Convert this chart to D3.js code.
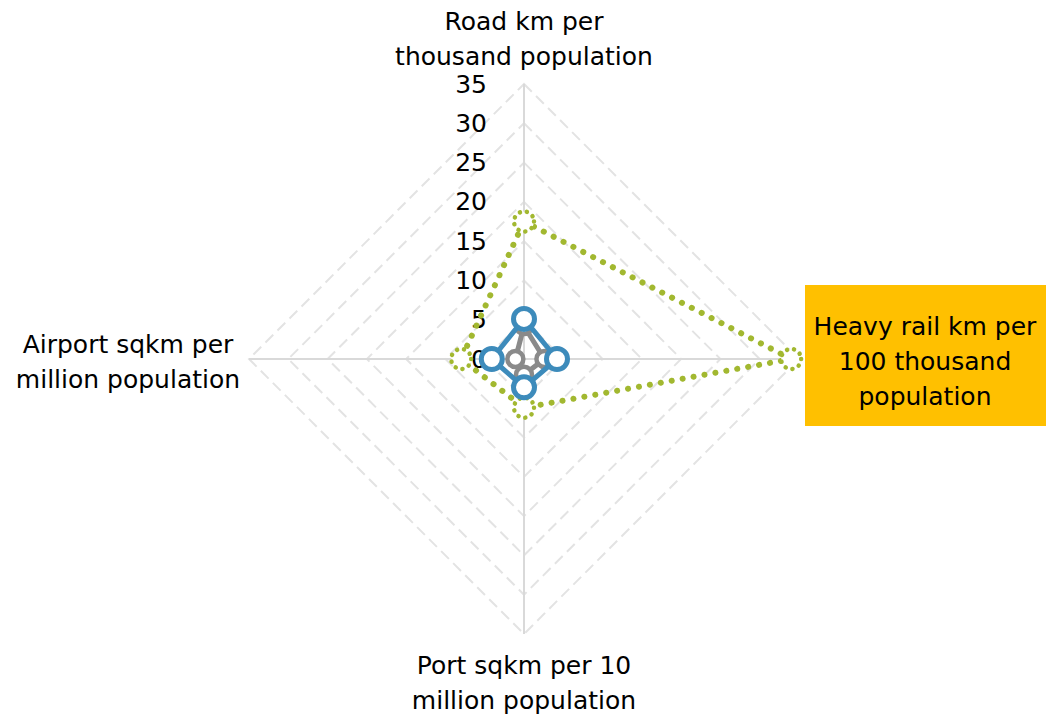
<!DOCTYPE html>
<html>
<head>
<meta charset="utf-8">
<script src="https://cdn.jsdelivr.net/npm/d3@7"></script>
<style>
  html, body { margin: 0; padding: 0; background: #ffffff; }
  svg { display: block; font-family: "DejaVu Sans", sans-serif; }
</style>
</head>
<body>
<svg id="chart" width="1046" height="715"></svg>
<script>
// ---- data ----
const categories = ["Road", "Heavy rail", "Port", "Airport"];
const categoryLabels = [
  ["Road km per", "thousand population"],
  ["Heavy rail km per", "100 thousand", "population"],
  ["Port sqkm per 10", "million population"],
  ["Airport sqkm per", "million population"]
];
const tickValues = [0, 5, 10, 15, 20, 25, 30, 35];
const seriesGreen = [17.5, 34.0, 6.2, 8.0];
const seriesGray = [4.2, 2.6, 2.0, 1.1];
const seriesBlue = [5.1, 4.2, 3.6, 4.1];

// ---- layout ----
const svg = d3.select("#chart");
const cx = 524, cy = 359;
const rScale = d3.scaleLinear().domain([0, 35]).range([0, 275]);
const ang = c => categories.indexOf(c) * (2 * Math.PI / categories.length);
const pt = (c, v) => {
  const a = ang(c);
  return [cx + rScale(v) * Math.sin(a), cy - rScale(v) * Math.cos(a)];
};

const g = svg.append("g");

// grid diamonds (dashed)
tickValues.filter(t => t > 0).forEach(t => {
  g.append("path")
    .attr("d", d3.line().curve(d3.curveLinearClosed)(categories.map(c => pt(c, t))))
    .attr("fill", "none")
    .attr("stroke", "#e3e3e3")
    .attr("stroke-width", 2)
    .attr("stroke-dasharray", "11,6");
});

// spokes
categories.forEach(c => {
  const [x, y] = pt(c, 35);
  g.append("line")
    .attr("x1", cx).attr("y1", cy).attr("x2", x).attr("y2", y)
    .attr("stroke", "#d9d9d9").attr("stroke-width", 2);
});

// tick labels
g.selectAll("text.tick").data(tickValues).enter().append("text")
  .attr("class", "tick")
  .attr("x", cx - 37)
  .attr("y", d => cy - rScale(d))
  .attr("text-anchor", "end")
  .attr("dominant-baseline", "central")
  .attr("font-size", 25)
  .attr("fill", "#000")
  .text(d => d);

// series
function drawSeries(values, opts) {
  const pts = categories.map((c, i) => pt(c, values[i]));
  const line = d3.line().curve(d3.curveLinearClosed);
  const s = g.append("g");
  s.append("path")
    .attr("d", line(pts))
    .attr("fill", "none")
    .attr("stroke", opts.color)
    .attr("stroke-width", opts.width)
    .attr("stroke-linecap", opts.cap || "butt")
    .attr("stroke-linejoin", "round")
    .attr("stroke-dasharray", opts.dash || null);
  s.selectAll("circle").data(pts).enter().append("circle")
    .attr("cx", d => d[0]).attr("cy", d => d[1])
    .attr("r", opts.r)
    .attr("fill", "#fff")
    .attr("stroke", opts.color)
    .attr("stroke-width", opts.mwidth)
    .attr("stroke-linecap", opts.cap || "butt")
    .attr("stroke-dasharray", opts.mdash || null);
}

drawSeries(seriesGreen, { color: "#a2b830", width: 6, cap: "round", dash: "0.1,11", r: 10, mwidth: 4.5, mdash: "0.1,7" });
drawSeries(seriesGray, { color: "#8a8a8a", width: 5, r: 8, mwidth: 4.5 });
drawSeries(seriesBlue, { color: "#3d8bbb", width: 5, r: 10.5, mwidth: 5 });

// category labels
const labelPos = [
  { x: 524, y: 21, box: null },
  { x: 925, y: 326, box: { x: 805, y: 285, w: 241, h: 141 } },
  { x: 524, y: 665, box: null },
  { x: 128, y: 344, box: null }
];
const lineH = 35;
categoryLabels.forEach((lines, i) => {
  const p = labelPos[i];
  if (p.box) {
    g.append("rect").attr("x", p.box.x).attr("y", p.box.y)
      .attr("width", p.box.w).attr("height", p.box.h).attr("fill", "#ffc000");
  }
  const t = g.append("text")
    .attr("text-anchor", "middle")
    .attr("font-size", 25)
    .attr("fill", "#000");
  lines.forEach((l, j) => {
    t.append("tspan").attr("x", p.x).attr("y", p.y + j * lineH)
      .attr("dominant-baseline", "central").text(l);
  });
});
</script>
</body>
</html>
